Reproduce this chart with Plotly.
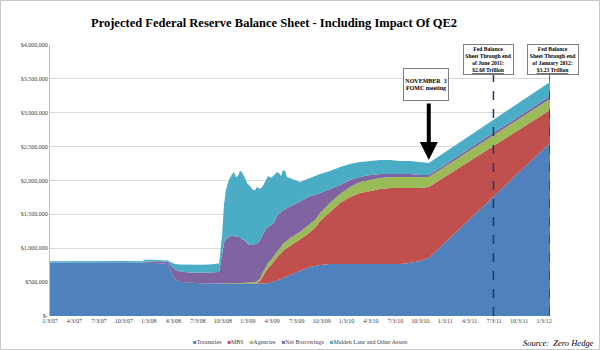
import plotly.graph_objects as go

# ---- data (values in $ millions) ----
dates = [
    "2007-01-03", "2007-04-04", "2007-07-06", "2007-10-06", "2007-12-12", "2007-12-19",
    "2008-01-15", "2008-02-13", "2008-03-14", "2008-03-26", "2008-04-09", "2008-04-27",
    "2008-06-03", "2008-07-10", "2008-08-16", "2008-09-19", "2008-09-30", "2008-10-07",
    "2008-10-14", "2008-10-25", "2008-11-06", "2008-11-13", "2008-11-20", "2008-11-28",
    "2008-12-05", "2008-12-12", "2008-12-20", "2008-12-27", "2009-01-03", "2009-01-11",
    "2009-01-22", "2009-01-30", "2009-02-06", "2009-02-17", "2009-02-28", "2009-03-11",
    "2009-03-19", "2009-03-30", "2009-04-10", "2009-04-21", "2009-04-28", "2009-05-06",
    "2009-05-13", "2009-05-21", "2009-05-28", "2009-06-08", "2009-06-26", "2009-07-15",
    "2009-08-02", "2009-08-21", "2009-09-08", "2009-09-27", "2009-11-03", "2009-12-10",
    "2010-01-16", "2010-02-22", "2010-03-31", "2010-05-07", "2010-06-12", "2010-07-19",
    "2010-08-25", "2010-10-01", "2010-11-03", "2012-01-25",
]
treasuries = [
    790, 793, 800, 794, 788, 785,
    782, 779, 768, 649, 546, 502,
    487, 483, 480, 480, 472, 472,
    472, 472, 472, 472, 472, 472,
    472, 472, 472, 472, 472, 472,
    472, 472, 472, 472, 475, 480,
    487, 494, 509, 524, 531, 546,
    561, 576, 590, 605, 635, 664,
    694, 723, 738, 753, 768, 768,
    768, 768, 768, 768, 768, 768,
    782, 812, 856, 2553,
]
mbs = [
    0, 0, 0, 0, 0, 0,
    0, 0, 0, 0, 0, 0,
    0, 0, 0, 0, 0, 0,
    0, 0, 0, 0, 0, 0,
    0, 0, 0, 0, 0, 0,
    0, 3, 15, 44, 115, 185,
    221, 258, 303, 347, 369, 384,
    399, 413, 413, 428, 443, 458,
    487, 517, 561, 649, 768, 900,
    989, 1048, 1077, 1107, 1122, 1122,
    1107, 1077, 1048, 487,
]
agencies = [
    0, 0, 0, 0, 0, 0,
    0, 0, 0, 0, 0, 0,
    0, 0, 0, 0, 4, 6,
    7, 9, 10, 12, 13, 15,
    15, 16, 18, 19, 21, 22,
    25, 27, 25, 30, 59, 74,
    74, 74, 74, 89, 89, 89,
    103, 103, 103, 118, 118, 118,
    118, 118, 118, 118, 133, 133,
    148, 162, 162, 162, 162, 162,
    162, 162, 148, 162,
]
net_borrowings = [
    0, 0, 0, 0, 0, 15,
    22, 28, 30, 89, 140, 155,
    155, 156, 162, 170, 424, 599,
    657, 685, 713, 697, 680, 694,
    664, 648, 632, 601, 570, 553,
    551, 561, 551, 576, 561, 546,
    531, 517, 502, 517, 517, 517,
    502, 487, 487, 458, 458, 443,
    428, 413, 369, 295, 207, 133,
    103, 74, 74, 59, 44, 44,
    44, 30, 30, 44,
]
maiden_lane_other = [
    19, 19, 19, 18, 19, 32,
    28, 22, 22, 52, 81, 103,
    111, 118, 118, 125, 295, 561,
    723, 841, 900, 945, 886, 886,
    989, 989, 945, 915, 886, 871,
    812, 797, 841, 753, 708, 723,
    753, 694, 694, 649, 605, 531,
    590, 561, 458, 428, 354, 295,
    280, 266, 280, 280, 266, 266,
    236, 221, 207, 207, 207, 192,
    192, 192, 177, 207,
]
series_names = ["Treasuries", "MBS", "Agencies", "Net Borrowings", "Maiden Lane and Other Assets"]
series_values = [treasuries, mbs, agencies, net_borrowings, maiden_lane_other]
series_colors = ["#4F81BD", "#C0504D", "#9BBB59", "#8064A2", "#4BACC6"]

x_tick_vals = [
    "2007-01-03", "2007-04-03", "2007-07-03", "2007-10-03", "2008-01-03", "2008-04-03",
    "2008-07-03", "2008-10-03", "2009-01-03", "2009-04-03", "2009-07-03", "2009-10-03",
    "2010-01-03", "2010-04-03", "2010-07-03", "2010-10-03", "2011-01-03", "2011-04-03",
    "2011-07-03", "2011-10-03", "2012-01-03",
]
x_tick_text = [
    "1/3/07", "4/3/07", "7/3/07", "10/3/07", "1/3/08", "4/3/08",
    "7/3/08", "10/3/08", "1/3/09", "4/3/09", "7/3/09", "10/3/09",
    "1/3/10", "4/3/10", "7/3/10", "10/3/10", "1/3/11", "4/3/11",
    "7/3/11", "10/3/11", "1/3/12",
]
y_tick_vals = [0, 500000, 1000000, 1500000, 2000000, 2500000, 3000000, 3500000, 4000000]
y_tick_text = ["$-", "$500,000", "$1,000,000", "$1,500,000", "$2,000,000",
               "$2,500,000", "$3,000,000", "$3,500,000", "$4,000,000"]

fomc_date = "2010-11-03"
june_2011 = "2011-06-30"
jan_2012 = "2012-01-25"

# ---- figure ----
SERIF = "Liberation Serif, Times New Roman, serif"
fig = go.Figure()
for name, vals, col in zip(series_names, series_values, series_colors):
    fig.add_trace(go.Scatter(
        x=dates, y=[v * 1000 for v in vals], name=name,
        stackgroup="one", mode="lines", line=dict(width=0, color=col),
        fillcolor=col, showlegend=False,
    ))

L, R, T, B = 50, 50, 45, 34
W, H = 600, 350
PW, PH = W - L - R, H - T - B


def px(xp):
    return (xp - L) / PW


def py(yp):
    return (H - B - yp) / PH


annotations = []
# title
annotations.append(dict(
    text="<b>Projected Federal Reserve Balance Sheet - Including Impact Of QE2</b>",
    x=px(274), y=py(23), xref="paper", yref="paper", xanchor="center", yanchor="middle",
    showarrow=False, font=dict(family=SERIF, size=12.5, color="#000000"),
))
# legend (compact, Excel-like), one line of real text
legend_text = "\u2003".join(
    f"<span style='color:{col}'>■</span>{name}" for name, col in zip(series_names, series_colors)
)
annotations.append(dict(
    text=legend_text, x=px(300), y=py(342), xref="paper", yref="paper",
    xanchor="center", yanchor="middle", showarrow=False,
    font=dict(family=SERIF, size=6, color="#404040"),
))
# source
annotations.append(dict(
    text="<i>Source:  Zero Hedge</i>", x=px(596), y=py(343), xref="paper", yref="paper",
    xanchor="right", yanchor="middle", showarrow=False,
    font=dict(family=SERIF, size=8.5, color="#000000"),
))
# FOMC box
annotations.append(dict(
    text="<b>NOVEMBER  3<br>FOMC meeting</b>", x=px(426), y=py(84.5), xref="paper", yref="paper",
    xanchor="center", yanchor="middle", showarrow=False, width=44, height=31,
    bgcolor="#FFFFFF", bordercolor="#7F7F7F", borderwidth=1, borderpad=0,
    font=dict(family=SERIF, size=6, color="#000000"),
))
# arrow
annotations.append(dict(
    text="", x=fomc_date, y=(316 - 160) / PH * 4000000, xref="x", yref="y",
    showarrow=True, ax=0, ay=-58, axref="pixel", ayref="pixel",
    arrowhead=2, arrowsize=0.9, arrowwidth=4, arrowcolor="#000000",
))
# Fed boxes
annotations.append(dict(
    text="<b>Fed Balance<br>Sheet Through end<br>of June 2011:<br><u>$2.68 Trillion</u></b>",
    x=px(488.5), y=py(59.5), xref="paper", yref="paper", xanchor="center", yanchor="middle",
    showarrow=False, width=49, height=29, bgcolor="#FFFFFF", bordercolor="#7F7F7F",
    borderwidth=1, borderpad=0, font=dict(family=SERIF, size=5.6, color="#000000"),
))
annotations.append(dict(
    text="<b>Fed Balance<br>Sheet Through end<br>of January 2012:<br><u>$3.23 Trillion</u></b>",
    x=px(553), y=py(59.5), xref="paper", yref="paper", xanchor="center", yanchor="middle",
    showarrow=False, width=50, height=29, bgcolor="#FFFFFF", bordercolor="#7F7F7F",
    borderwidth=1, borderpad=0, font=dict(family=SERIF, size=5.6, color="#000000"),
))

shapes = [
    dict(type="line", xref="x", yref="paper", x0=june_2011, x1=june_2011, y0=0, y1=py(75),
         line=dict(color="#1F3864", width=1.5, dash="dash")),
    dict(type="line", xref="x", yref="paper", x0=jan_2012, x1=jan_2012, y0=0, y1=py(75),
         line=dict(color="#1F3864", width=1.5, dash="dash")),
    dict(type="rect", xref="paper", yref="paper", x0=px(0.5), x1=px(599.5), y0=py(349.5), y1=py(0.5),
         line=dict(color="#C8C8C8", width=1), fillcolor="rgba(0,0,0,0)", layer="below"),
]

fig.update_layout(
    width=W, height=H, margin=dict(l=L, r=R, t=T, b=B),
    paper_bgcolor="#FFFFFF", plot_bgcolor="#FFFFFF",
    showlegend=False, annotations=annotations, shapes=shapes,
    xaxis=dict(
        type="date", range=["2007-01-03", jan_2012], tickmode="array",
        tickvals=x_tick_vals, ticktext=x_tick_text, showgrid=False, zeroline=False,
        showline=False, ticks="", tickfont=dict(family=SERIF, size=6, color="#404040"),
        tickangle=0,
    ),
    yaxis=dict(
        range=[0, 4000000], tickmode="array", tickvals=y_tick_vals, ticktext=y_tick_text,
        showgrid=True, gridcolor="#D9D9D9", gridwidth=1, zeroline=False,
        showline=True, linecolor="#BFBFBF", linewidth=1, ticks="",
        tickfont=dict(family=SERIF, size=6, color="#404040"),
    ),
)

fig.write_html("out.html")
